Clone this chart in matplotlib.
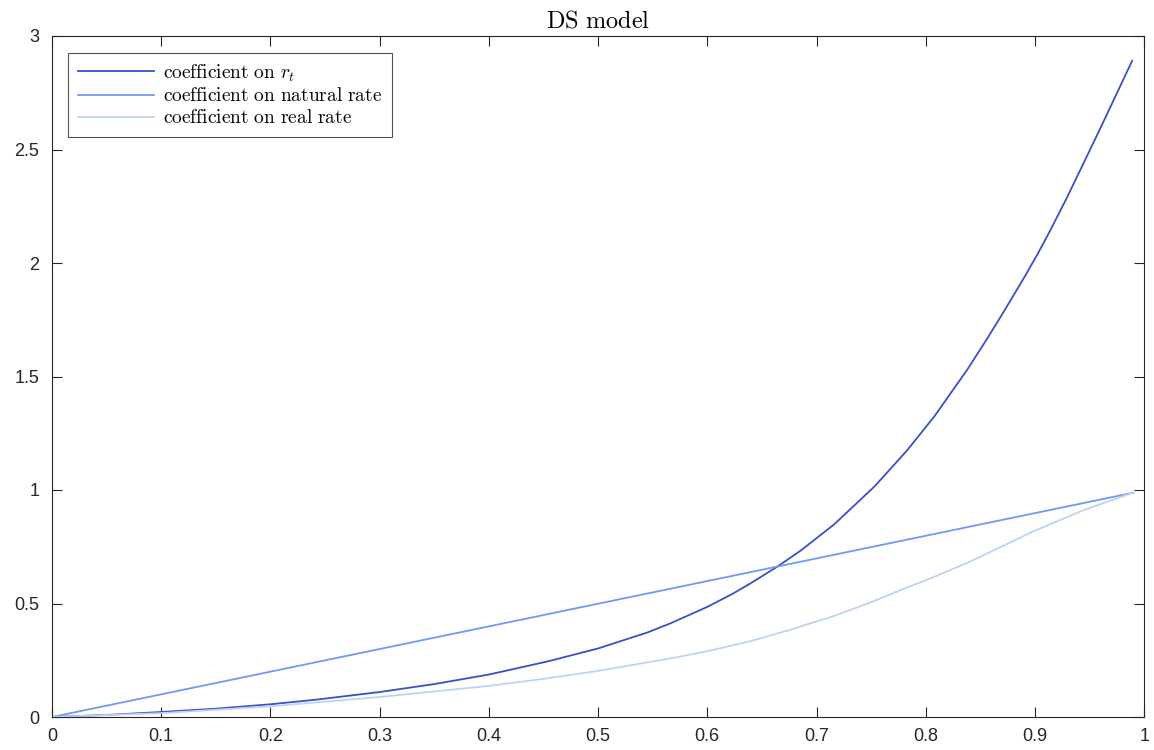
import matplotlib
matplotlib.use('Agg')
import matplotlib.pyplot as plt
import numpy as np

# values
x_rt = [0, 0.05, 0.1, 0.151, 0.2, 0.243, 0.3, 0.35, 0.4, 0.454, 0.5, 0.545,
        0.566, 0.6, 0.624, 0.64, 0.664, 0.6855, 0.716, 0.753, 0.783, 0.808,
        0.838, 0.856, 0.872, 0.890, 0.9025, 0.9147, 0.930, 0.948, 0.9605, 0.989]
y_rt = [0, 0.009, 0.022, 0.037, 0.056, 0.077, 0.110, 0.145, 0.187, 0.245, 0.302,
        0.372, 0.412, 0.485, 0.545, 0.59, 0.662, 0.733, 0.848, 1.015, 1.175, 1.325,
        1.530, 1.665, 1.79, 1.935, 2.04, 2.15, 2.295, 2.475, 2.60, 2.891]

x_nat = [0, 0.99]
y_nat = [0, 0.988]

x_real = [0, 0.1, 0.2, 0.3, 0.4, 0.45, 0.5, 0.566, 0.594, 0.611, 0.6395, 0.673, 0.716,
          0.747, 0.777, 0.808, 0.838, 0.869, 0.8995, 0.945, 0.9895]
y_real = [0, 0.017, 0.047, 0.088, 0.137, 0.168, 0.203, 0.258, 0.284, 0.302, 0.334, 0.38,
          0.445, 0.500, 0.559, 0.618, 0.679, 0.750, 0.820, 0.912, 0.988]

labels = [r'$\mathrm{coefficient\ on\ }r_t$',
          r'$\mathrm{coefficient\ on\ natural\ rate}$',
          r'$\mathrm{coefficient\ on\ real\ rate}$']
colors = ['#3a4fc8', '#7099f5', '#bdd3f5']

xticks = np.arange(0, 1.01, 0.1)
xticklabels = ['0', '0.1', '0.2', '0.3', '0.4', '0.5', '0.6', '0.7', '0.8', '0.9', '1']
yticks = np.arange(0, 3.01, 0.5)
yticklabels = ['0', '0.5', '1', '1.5', '2', '2.5', '3']

plt.rcParams['mathtext.fontset'] = 'cm'
plt.rcParams['font.family'] = ['Liberation Sans', 'DejaVu Sans']

fig = plt.figure(figsize=(11.54, 7.5), dpi=100)
ax = fig.add_axes([0.045, 0.044, 0.9465, 0.908])

ax.plot(x_rt, y_rt, color=colors[0], lw=1.3, label=labels[0])
ax.plot(x_nat, y_nat, color=colors[1], lw=1.3, label=labels[1])
ax.plot(x_real, y_real, color=colors[2], lw=1.3, label=labels[2])

ax.set_xlim(0, 1)
ax.set_ylim(0, 3)
ax.set_xticks(xticks)
ax.set_xticklabels(xticklabels)
ax.set_yticks(yticks)
ax.set_yticklabels(yticklabels)
ax.tick_params(direction='in', top=True, right=True, length=7, width=0.8,
               labelsize=13, colors='#262626')
ax.tick_params(axis='x', pad=8)
ax.tick_params(axis='y', pad=9)
for s in ax.spines.values():
    s.set_color('#262626')
    s.set_linewidth(0.8)

ax.set_title(r'$\mathrm{DS\ model}$', fontsize=17.5, pad=6)

leg = ax.legend(loc='upper left', fontsize=14, fancybox=False, frameon=True,
                edgecolor='#262626', handlelength=3.9, handletextpad=0.45,
                borderaxespad=0.85, labelspacing=0.2, borderpad=0.5)
leg.get_frame().set_linewidth(0.8)

fig.savefig('out.png', dpi=100)
